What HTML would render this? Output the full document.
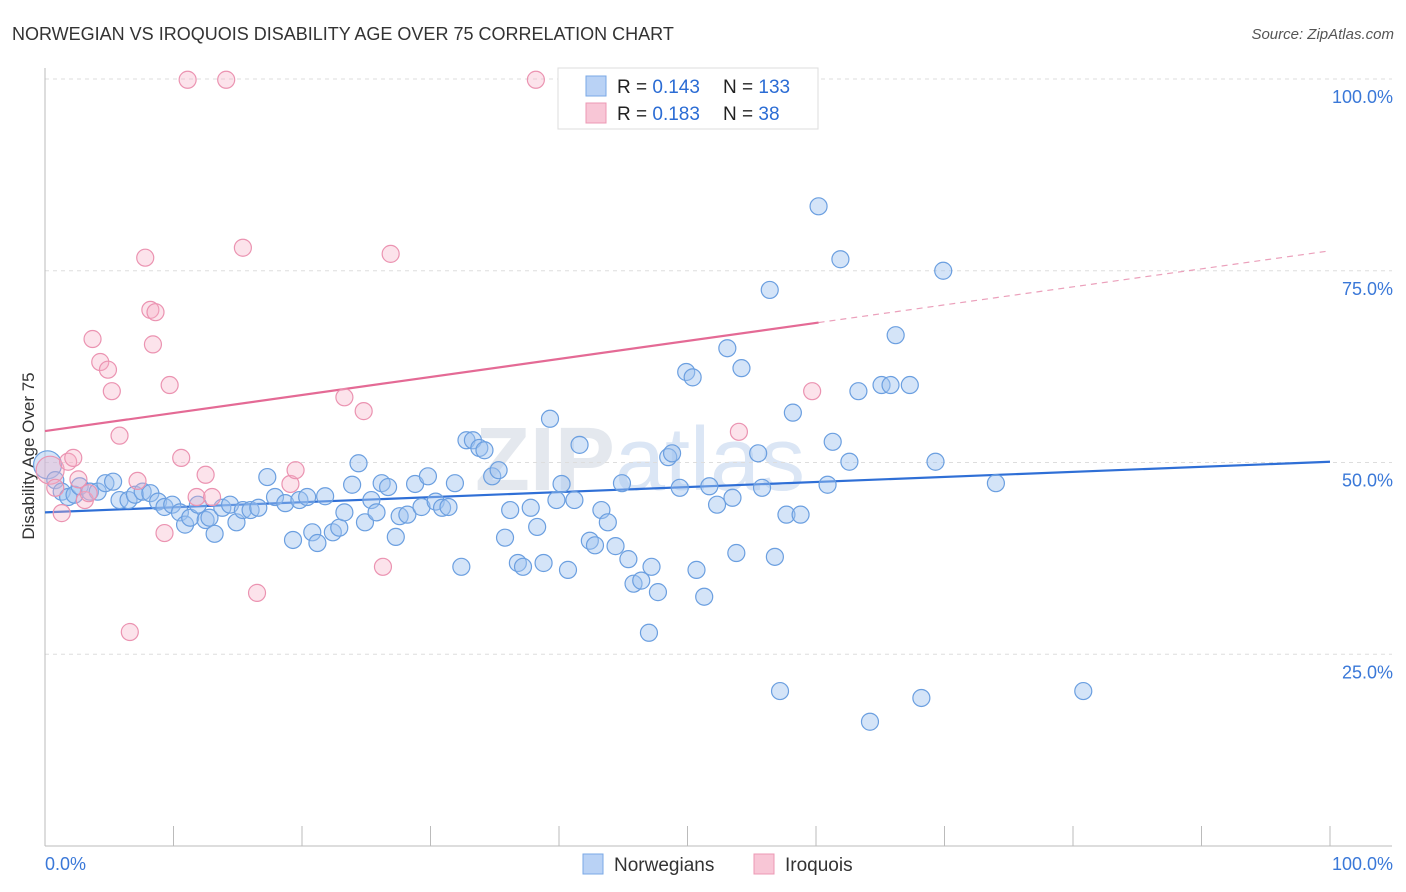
<!DOCTYPE html>
<html><head><meta charset="utf-8"><style>
body{margin:0;background:#fff;font-family:"Liberation Sans",sans-serif;}
svg{display:block}
</style></head><body>
<svg id="chart" width="1406" height="892" xmlns="http://www.w3.org/2000/svg">
<text x="12" y="40" font-size="18" fill="#333">NORWEGIAN VS IROQUOIS DISABILITY AGE OVER 75 CORRELATION CHART</text>
<text x="1394" y="39" font-size="15" fill="#555" font-style="italic" text-anchor="end">Source: ZipAtlas.com</text>
<text x="640" y="490" font-size="90" fill="#e4e8ee" font-weight="bold" text-anchor="middle">ZIP<tspan fill="#dbe6f5" font-weight="normal">atlas</tspan></text>
<text transform="translate(34,456) rotate(-90)" font-size="17" fill="#333" text-anchor="middle">Disability Age Over 75</text>
<g id="grid"></g><g id="axes"></g><g id="trends"></g><g id="pts"></g>
<g>
<rect x="558" y="68" width="260" height="61" fill="#fff" stroke="#ddd"/>
<rect x="586" y="76" width="20" height="20" fill="#b9d2f5" stroke="#7aa8e6"/>
<rect x="586" y="103" width="20" height="20" fill="#f8c6d6" stroke="#ec98b4"/>
<text x="617" y="93" font-size="19" fill="#222">R = <tspan fill="#2b6cd4">0.143</tspan></text>
<text x="723" y="93" font-size="19" fill="#222">N = <tspan fill="#2b6cd4">133</tspan></text>
<text x="617" y="120" font-size="19" fill="#222">R = <tspan fill="#2b6cd4">0.183</tspan></text>
<text x="723" y="120" font-size="19" fill="#222">N = <tspan fill="#2b6cd4"> 38</tspan></text>
</g>
<g>
<rect x="583" y="854" width="20" height="20" fill="#b9d2f5" stroke="#7aa8e6"/>
<text x="614" y="871" font-size="19" fill="#333">Norwegians</text>
<rect x="754" y="854" width="20" height="20" fill="#f8c6d6" stroke="#ec98b4"/>
<text x="785" y="871" font-size="19" fill="#333">Iroquois</text>
</g>
</svg>
<script>
const yTicks=[100,75,50,25];
const yTickLabels=["100.0%","75.0%","50.0%","25.0%"];
const xTicks=[0,10,20,30,40,50,60,70,80,90,100];
const blueX=[0.2,0.8,1.3,1.8,2.3,2.7,3.5,4.1,4.7,5.3,5.8,6.5,7.0,7.6,8.2,8.8,9.3,9.9,10.5,10.9,11.3,11.9,12.5,12.8,13.2,13.8,14.4,14.9,15.4,16.0,16.6,17.3,17.9,18.7,19.3,19.8,20.4,20.8,21.2,21.8,22.4,22.9,23.3,23.9,24.4,24.9,25.4,25.8,26.2,26.7,27.3,27.6,28.2,28.8,29.3,29.8,30.4,30.9,31.4,31.9,32.4,32.8,33.3,33.8,34.2,34.8,35.3,35.8,36.2,36.8,37.2,37.8,38.3,38.8,39.3,39.8,40.2,40.7,41.2,41.6,42.4,42.8,43.3,43.8,44.4,44.9,45.4,45.8,46.4,47.0,47.2,47.7,48.5,48.8,49.4,49.9,50.4,50.7,51.3,51.7,52.3,53.1,53.5,53.8,54.2,55.5,55.8,56.4,56.8,57.2,57.7,58.2,58.8,60.2,60.9,61.3,61.9,62.6,63.3,64.2,65.1,65.8,66.2,67.3,68.2,69.3,69.9,74.0,80.8];
const blueY=[49.7,47.7,46.2,45.5,45.8,46.9,46.2,46.2,47.3,47.5,45.1,45.1,45.8,46.2,46.0,44.9,44.2,44.5,43.5,41.9,42.8,44.5,42.5,42.8,40.7,44.1,44.5,42.2,43.8,43.8,44.1,48.1,45.5,44.7,39.9,45.1,45.5,40.9,39.5,45.6,40.9,41.5,43.5,47.1,49.9,42.2,45.1,43.5,47.3,46.8,40.3,43.0,43.2,47.2,44.2,48.2,44.9,44.1,44.2,47.3,36.4,52.9,52.9,51.9,51.6,48.2,49.0,40.2,43.8,36.9,36.4,44.1,41.6,36.9,55.7,45.1,47.2,36.0,45.1,52.3,39.8,39.2,43.8,42.2,39.1,47.3,37.4,34.2,34.6,27.8,36.4,33.1,50.7,51.2,46.7,61.8,61.1,36.0,32.5,46.9,44.5,64.9,45.4,38.2,62.3,51.2,46.7,72.5,37.7,20.2,43.2,56.5,43.2,83.4,47.1,52.7,76.5,50.1,59.3,16.2,60.1,60.1,66.6,60.1,19.3,50.1,75.0,47.3,20.2];
const pinkX=[0.4,0.8,1.3,1.8,2.2,3.1,3.7,4.3,4.9,5.2,5.8,6.6,7.2,7.8,8.2,8.6,8.4,9.3,9.7,10.6,11.1,11.8,12.5,13.0,14.1,15.4,16.5,19.1,19.5,23.3,24.8,26.3,26.9,38.2,54.0,59.7,3.4,2.6];
const pinkY=[49.0,46.7,43.4,50.1,50.6,45.1,66.1,63.1,62.1,59.3,53.5,27.9,47.6,76.7,69.9,69.6,65.4,40.8,60.1,50.6,99.9,45.5,48.4,45.5,99.9,78.0,33.0,47.2,49.0,58.5,56.7,36.4,77.2,99.9,54.0,59.3,46.0,47.8];
const blueTrend=[43.5,50.1];   // y at x=0 and x=100
const pinkTrend=[54.1,77.6];
const pinkSolidEnd=60.2;

const NS="http://www.w3.org/2000/svg";
const X0=45,X1=1330,Y0=846,Y100=79;
const sx=v=>X0+(X1-X0)*v/100;
const sy=v=>Y0-(Y0-Y100)*v/100;
function mk(t,a,parent){const e=document.createElementNS(NS,t);for(const k in a)e.setAttribute(k,a[k]);parent.appendChild(e);return e;}
const grid=document.getElementById('grid'),axes=document.getElementById('axes'),tr=document.getElementById('trends'),pts=document.getElementById('pts');
yTicks.forEach((v,i)=>{
  const l=mk('line',{x1:X0,x2:1392,y1:sy(v),y2:sy(v),stroke:'#ddd','stroke-dasharray':'4,4'},grid);
  
  
  const t=mk('text',{x:1393,y:sy(v)+24,'font-size':18,fill:'#3a78d8','text-anchor':'end'},grid);
  t.textContent=yTickLabels[i];
  
  
});
const ax=mk('line',{x1:X0,x2:X0,y1:68,y2:Y0,stroke:'#bbb'},axes);


const bx=mk('line',{x1:X0,x2:1392,y1:Y0,y2:Y0,stroke:'#bbb'},axes);


xTicks.forEach(v=>{
  const l=mk('line',{x1:sx(v),x2:sx(v),y1:826,y2:Y0,stroke:'#bbb'},axes);
  
  
});
const t0=mk('text',{x:45,y:870,'font-size':18,fill:'#3a78d8'},axes);t0.textContent='0.0%';


const t1=mk('text',{x:1393,y:870,'font-size':18,fill:'#3a78d8','text-anchor':'end'},axes);t1.textContent='100.0%';



function dots(xs,ys,fill,stroke,name){
  xs.forEach((x,i)=>{
    const big=i===0;
    const c=mk('circle',{cx:sx(x),cy:sy(ys[i]),r:big?14:8.5,fill:fill,stroke:stroke,'stroke-width':1.2},pts);
    
    
  });
}
dots(blueX,blueY,'rgba(160,195,240,0.45)','#6b9fe0','norwegians-point');
dots(pinkX,pinkY,'rgba(245,175,198,0.35)','#eb93b1','iroquois-point');
const lerp=(a,x)=>a[0]+(a[1]-a[0])*x/100;
const bl=mk('line',{x1:sx(0),y1:sy(lerp(blueTrend,0)),x2:sx(100),y2:sy(lerp(blueTrend,100)),stroke:'#2f6fd6','stroke-width':2.2},tr);


const pl=mk('line',{x1:sx(0),y1:sy(lerp(pinkTrend,0)),x2:sx(pinkSolidEnd),y2:sy(lerp(pinkTrend,pinkSolidEnd)),stroke:'#e46a95','stroke-width':2.2},tr);


const pd=mk('line',{x1:sx(pinkSolidEnd),y1:sy(lerp(pinkTrend,pinkSolidEnd)),x2:sx(100),y2:sy(lerp(pinkTrend,100)),stroke:'#eba0bb','stroke-width':1.2,'stroke-dasharray':'6,5'},tr);


</script>
</body></html>
